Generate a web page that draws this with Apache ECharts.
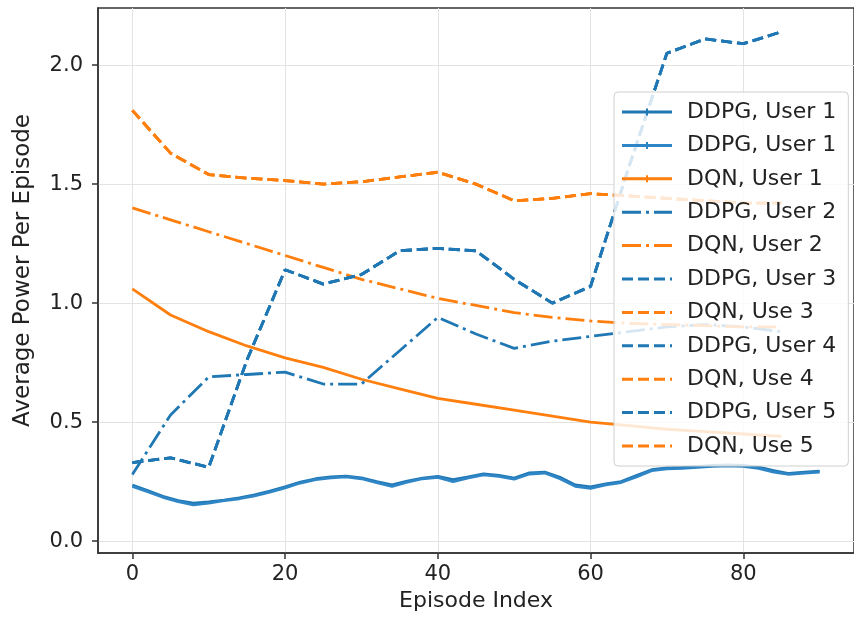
<!DOCTYPE html>
<html>
<head>
<meta charset="utf-8">
<script src="https://cdn.jsdelivr.net/npm/echarts@6/dist/echarts.min.js"></script>
<style>
  html, body { margin: 0; padding: 0; background: #fff; }
  #chart { width: 854px; height: 621px; }
</style>
</head>
<body>
<div id="chart"></div>
<script>
// Episodes sampled for the fine-grained DDPG user-1 curves
const episodesFine = [0,2,4,6,8,10,12,14,16,18,20,22,24,26,28,30,32,34,36,38,40,42,44,46,48,50,52,54,56,58,60,62,64,66,68,70,72,74,76,78,80,82,84,86,88,90];
// Episodes sampled for the coarser curves
const episodesCoarse = [0,5,10,15,20,25,30,35,40,45,50,55,60,65,70,75,80,85];

const ddpgUser1a = [0.235,0.212,0.188,0.170,0.160,0.165,0.172,0.182,0.194,0.210,0.228,0.248,0.262,0.270,0.273,0.266,0.250,0.236,0.252,0.265,0.272,0.258,0.270,0.282,0.276,0.265,0.287,0.290,0.268,0.236,0.228,0.240,0.250,0.275,0.300,0.308,0.310,0.314,0.318,0.320,0.318,0.311,0.296,0.284,0.290,0.294];
const ddpgUser1b = [0.230,0.208,0.184,0.166,0.152,0.160,0.170,0.178,0.190,0.206,0.224,0.244,0.258,0.266,0.270,0.262,0.246,0.230,0.248,0.262,0.268,0.250,0.266,0.278,0.272,0.260,0.282,0.286,0.262,0.230,0.222,0.236,0.246,0.270,0.296,0.304,0.306,0.310,0.314,0.316,0.314,0.306,0.290,0.280,0.286,0.290];
const dqnUser1 = [1.06,0.95,0.88,0.82,0.77,0.73,0.68,0.64,0.60,0.575,0.55,0.525,0.50,0.485,0.47,0.46,0.45,0.44];
const ddpgUser2 = [0.28,0.53,0.69,0.70,0.71,0.66,0.66,0.80,0.94,0.87,0.81,0.84,0.86,0.88,0.90,0.91,0.90,0.88];
const dqnUser2 = [1.40,1.35,1.30,1.25,1.20,1.15,1.10,1.06,1.02,0.99,0.96,0.94,0.925,0.915,0.91,0.905,0.90,0.90];
const ddpgUser3 = [0.33,0.35,0.31,0.76,1.14,1.08,1.12,1.22,1.23,1.22,1.10,1.00,1.07,1.57,2.05,2.11,2.09,2.14];
const dqnUser3 = [1.81,1.63,1.54,1.525,1.515,1.50,1.51,1.53,1.55,1.50,1.43,1.44,1.46,1.45,1.44,1.43,1.42,1.42];
const ddpgUser4 = ddpgUser3;
const dqnUser4 = dqnUser3;
const ddpgUser5 = ddpgUser3;
const dqnUser5 = dqnUser3;

const xTicks = [0, 20, 40, 60, 80];
const yTicks = [0.0, 0.5, 1.0, 1.5, 2.0];

const BLUE = '#1f77b4';
const ORANGE = '#ff7f0e';
const DASHED = [11, 5];
const DASHDOT = [19, 5, 3, 5];

// Legend glyphs: short strokes drawn as filled bars
const ICON_SOLID_TICK = 'path://M0,2h24v3h-24z M24,0h2v7h-2z M26,2h24v3h-24z';
const ICON_DASHDOT = 'path://M0,2h19v3h-19z M24,2h3v3h-3z M32,2h18v3h-18z M0,0h0.01v7h-0.01z';
const ICON_DASHED = 'path://M0,2h11v3h-11z M16,2h11v3h-11z M32,2h11v3h-11z M48,2h2v3h-2z M0,0h0.01v7h-0.01z';

function pairs(xs, ys) { return xs.map((x, i) => [x, ys[i]]); }

function line(name, xs, ys, color, type) {
  return {
    name: name,
    type: 'line',
    data: pairs(xs, ys),
    symbol: 'none',
    smooth: false,
    animation: false,
    lineStyle: { color: color, width: 2.8, type: type },
    itemStyle: { color: color }
  };
}

const series = [
  line('DDPG, User 1', episodesFine, ddpgUser1a, BLUE, 'solid'),
  line('DDPG, User 1 ', episodesFine, ddpgUser1b, '#2f86c6', 'solid'),
  line('DQN, User 1', episodesCoarse, dqnUser1, ORANGE, 'solid'),
  line('DDPG, User 2', episodesCoarse, ddpgUser2, BLUE, DASHDOT),
  line('DQN, User 2', episodesCoarse, dqnUser2, ORANGE, DASHDOT),
  line('DDPG, User 3', episodesCoarse, ddpgUser3, BLUE, DASHED),
  line('DQN, Use 3', episodesCoarse, dqnUser3, ORANGE, DASHED),
  line('DDPG, User 4', episodesCoarse, ddpgUser4, BLUE, DASHED),
  line('DQN, Use 4', episodesCoarse, dqnUser4, ORANGE, DASHED),
  line('DDPG, User 5', episodesCoarse, ddpgUser5, BLUE, DASHED),
  line('DQN, Use 5', episodesCoarse, dqnUser5, ORANGE, DASHED)
];

const legendIcons = [ICON_SOLID_TICK, ICON_SOLID_TICK, ICON_SOLID_TICK, ICON_DASHDOT, ICON_DASHDOT,
                     ICON_DASHED, ICON_DASHED, ICON_DASHED, ICON_DASHED, ICON_DASHED, ICON_DASHED];

const FONT = 'DejaVu Sans';
const chart = echarts.init(document.getElementById('chart'), null, { renderer: 'canvas' });
chart.setOption({
  backgroundColor: '#fff',
  animation: false,
  grid: {
    left: 98, right: -11, top: 8, bottom: 68,
    show: true, borderColor: '#333', borderWidth: 1.5, backgroundColor: 'transparent'
  },
  legend: {
    orient: 'vertical',
    left: 614, top: 92,
    padding: [9, 12, 9, 8],
    itemWidth: 50, itemHeight: 14, itemGap: 11.4,
    backgroundColor: 'rgba(255,255,255,0.82)',
    borderColor: '#d0d0d0', borderWidth: 1, borderRadius: 4,
    itemStyle: { borderWidth: 0 },
    lineStyle: { width: 0 },
    textStyle: { fontFamily: FONT, fontSize: 22, color: '#222', lineHeight: 20, padding: [0, 0, 0, 10] },
    data: series.map((s, i) => ({ name: s.name, icon: legendIcons[i] })),
    formatter: function (n) { return n.trim(); }
  },
  xAxis: {
    type: 'value', min: -4.5, max: 94.5,
    name: 'Episode Index', nameLocation: 'middle', nameGap: 34,
    nameTextStyle: { fontFamily: FONT, fontSize: 22, color: '#222' },
    axisLine: { show: true, onZero: false, lineStyle: { color: '#333', width: 1.5 } },
    axisTick: { show: true, length: 6, lineStyle: { color: '#333', width: 1.5 }, customValues: xTicks },
    axisLabel: { fontFamily: FONT, fontSize: 21, color: '#222', margin: 11, customValues: xTicks },
    splitLine: { show: true, lineStyle: { color: '#e3e3e3', width: 1 } }
  },
  yAxis: {
    type: 'value', min: -0.05, max: 2.24,
    name: 'Average Power Per Episode', nameLocation: 'middle', nameGap: 63,
    nameTextStyle: { fontFamily: FONT, fontSize: 23, color: '#222', padding: [0, 0, 0, 20] },
    axisLine: { show: true, onZero: false, lineStyle: { color: '#333', width: 1.5 } },
    axisTick: { show: true, length: 6, lineStyle: { color: '#333', width: 1.5 }, customValues: yTicks },
    axisLabel: { fontFamily: FONT, fontSize: 21, color: '#222', margin: 15, customValues: yTicks,
                 formatter: function (v) { return v.toFixed(1); } },
    splitLine: { show: true, lineStyle: { color: '#e3e3e3', width: 1 } }
  },
  series: series
});
</script>
</body>
</html>
